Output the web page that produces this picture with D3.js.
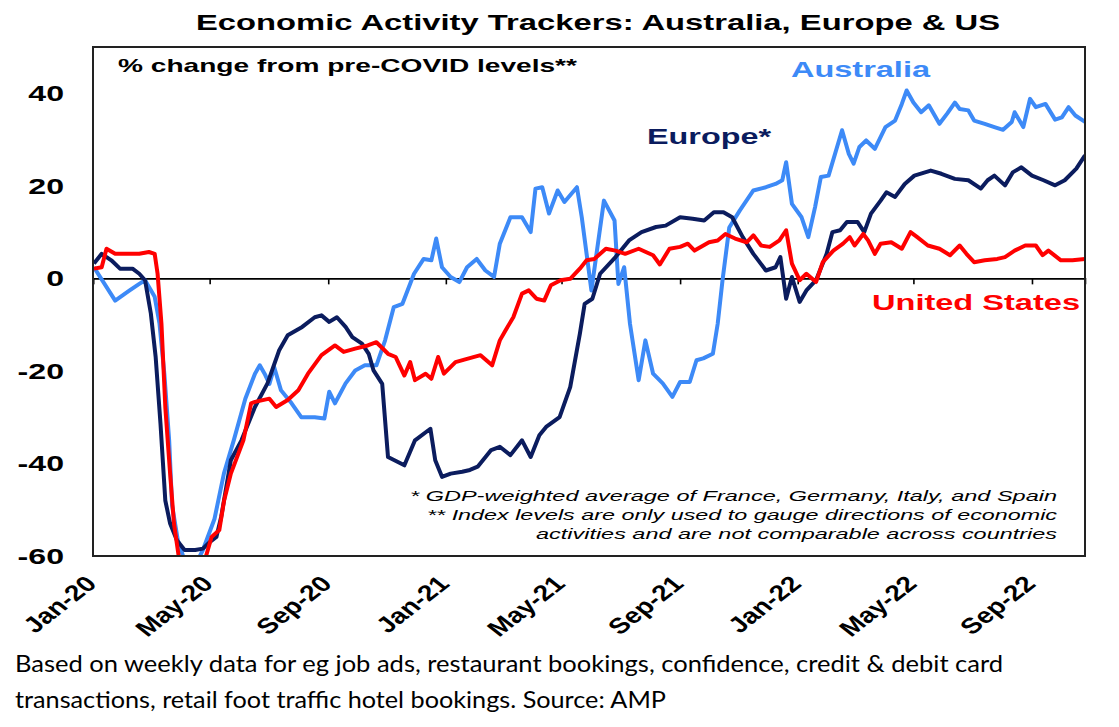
<!DOCTYPE html>
<html lang="en">
<head>
<meta charset="UTF-8" />
<title>Economic Activity Trackers</title>
<script src="https://d3js.org/d3.v7.min.js"></script>
<style>
  body { margin: 0; background: #fff; }
  svg text { font-family: Arial, "Liberation Sans", sans-serif; }
</style>
</head>
<body>
<svg id="chart"></svg>
<script>
// weekly-ish readings, % change from pre-COVID levels
const australia = [
  ["2020-01-02",2.4],["2020-01-24",-4.8],["2020-02-08",-2.6],["2020-02-18",-1.2],["2020-02-24",-0.4],
  ["2020-03-05",-4],["2020-03-10",-9.8],["2020-03-15",-20.6],["2020-03-20",-35],["2020-03-23",-49],
  ["2020-03-29",-56.6],["2020-04-05",-61],["2020-04-16",-62],["2020-04-24",-58.7],["2020-05-06",-52],
  ["2020-05-16",-42],["2020-05-26",-35],["2020-06-07",-26],["2020-06-17",-20.6],["2020-06-22",-18.8],
  ["2020-06-27",-20.6],["2020-07-02",-22.8],["2020-07-07",-19.2],["2020-07-14",-24.2],["2020-07-25",-27],
  ["2020-08-04",-30],["2020-08-18",-30],["2020-08-28",-30.3],["2020-09-02",-24.5],["2020-09-08",-27],
  ["2020-09-19",-22.7],["2020-09-29",-19.9],["2020-10-09",-18.8],["2020-10-21",-18.8],["2020-10-30",-13.4],
  ["2020-11-08",-6.2],["2020-11-17",-5.5],["2020-11-29",1],["2020-12-09",4.2],["2020-12-17",3.9],
  ["2020-12-22",8.6],["2020-12-28",2.4],["2021-01-06",0.3],["2021-01-15",-0.8],["2021-01-23",2.4],
  ["2021-02-02",4.2],["2021-02-11",1.7],["2021-02-20",0.3],["2021-02-26",7.5],["2021-03-09",13.2],
  ["2021-03-21",13.2],["2021-03-30",10],["2021-04-04",19.4],["2021-04-11",19.7],["2021-04-18",14],
  ["2021-04-27",19],["2021-05-04",16.5],["2021-05-17",19.7],["2021-05-22",13.2],["2021-06-01",-2.6],
  ["2021-06-14",16.8],["2021-06-25",12.5],["2021-06-29",-1.2],["2021-07-05",2.4],["2021-07-11",-9.8],
  ["2021-07-20",-22],["2021-07-27",-13.4],["2021-08-04",-20.6],["2021-08-14",-22.7],["2021-08-24",-25.6],
  ["2021-09-01",-22.4],["2021-09-11",-22.4],["2021-09-18",-17.7],["2021-09-25",-17.3],["2021-10-05",-16.3],
  ["2021-10-10",-9.8],["2021-10-15",-0.4],["2021-10-22",11],["2021-11-02",14.7],["2021-11-16",19],
  ["2021-11-29",19.7],["2021-12-09",20.4],["2021-12-16",21.2],["2021-12-20",25.1],["2021-12-26",16.1],
  ["2022-01-05",13.2],["2022-01-12",8.9],["2022-01-19",15.4],["2022-01-25",21.9],["2022-02-02",22.2],
  ["2022-02-16",32],["2022-02-23",26.9],["2022-02-28",24.8],["2022-03-06",28.4],["2022-03-13",29.8],
  ["2022-03-22",28],["2022-04-02",32.7],["2022-04-12",34.1],["2022-04-19",37.7],["2022-04-24",40.6],
  ["2022-05-01",38],["2022-05-09",35.9],["2022-05-17",37.4],["2022-05-28",33.4],["2022-06-05",35.6],
  ["2022-06-13",38],["2022-06-18",36.6],["2022-06-27",36.3],["2022-07-03",34.1],["2022-07-14",33.4],
  ["2022-07-24",32.7],["2022-08-02",32.1],["2022-08-11",33.8],["2022-08-14",35.9],["2022-08-23",32.7],
  ["2022-08-30",38.8],["2022-09-05",37],["2022-09-15",37.7],["2022-09-25",34.3],["2022-10-02",34.8],
  ["2022-10-09",37],["2022-10-16",35.2],["2022-10-26",33.8]
];

const europe = [
  ["2020-01-02",3.2],["2020-01-10",5.3],["2020-01-20",3.9],["2020-01-29",2.1],["2020-02-11",2.1],
  ["2020-02-18",1],["2020-02-24",-0.4],["2020-03-01",-7.6],["2020-03-06",-17],["2020-03-11",-31.4],
  ["2020-03-16",-48],["2020-03-21",-53],["2020-03-28",-56.6],["2020-04-05",-58.7],["2020-04-16",-58.7],
  ["2020-04-24",-58.4],["2020-05-01",-57],["2020-05-08",-55.9],["2020-05-13",-51.5],["2020-05-23",-39.3],
  ["2020-06-03",-35],["2020-06-17",-27.8],["2020-06-30",-22.7],["2020-07-12",-15.6],["2020-07-21",-12.3],
  ["2020-08-05",-10.5],["2020-08-18",-8.4],["2020-08-25",-8],["2020-09-02",-9.4],["2020-09-10",-8.4],
  ["2020-09-19",-10.5],["2020-09-26",-12.7],["2020-10-06",-14.1],["2020-10-13",-16.3],["2020-10-18",-19.9],
  ["2020-10-27",-22.8],["2020-11-02",-38.6],["2020-11-19",-40.4],["2020-11-30",-35],["2020-12-16",-32.5],
  ["2020-12-21",-39.3],["2020-12-28",-42.9],["2021-01-06",-42.2],["2021-01-18",-41.8],["2021-01-26",-41.4],
  ["2021-02-03",-40.7],["2021-02-17",-37.1],["2021-02-26",-36.4],["2021-03-09",-38.2],["2021-03-21",-35],
  ["2021-03-30",-38.6],["2021-04-08",-33.9],["2021-04-15",-32.1],["2021-04-29",-30],["2021-05-10",-23.5],
  ["2021-05-20",-12],["2021-05-25",-5.5],["2021-06-02",-4.4],["2021-06-10",1],["2021-06-26",4.6],
  ["2021-07-10",8.2],["2021-07-23",10],["2021-08-07",11.1],["2021-08-17",11.4],["2021-09-01",13.2],
  ["2021-09-14",12.9],["2021-09-26",12.5],["2021-10-06",14.3],["2021-10-16",14.3],["2021-10-25",13.2],
  ["2021-11-05",8.9],["2021-11-16",5.3],["2021-11-29",1.7],["2021-12-09",2.4],["2021-12-14",4.6],
  ["2021-12-20",-4.4],["2021-12-26",0.3],["2022-01-03",-5.1],["2022-01-10",-2.6],["2022-01-20",-0.4],
  ["2022-01-31",5.3],["2022-02-06",10],["2022-02-14",10.4],["2022-02-21",12.2],["2022-03-04",12.2],
  ["2022-03-11",10],["2022-03-18",14],["2022-03-28",16.8],["2022-04-03",18.6],["2022-04-12",17.6],
  ["2022-04-22",20.4],["2022-05-02",22.2],["2022-05-19",23.3],["2022-05-30",22.6],["2022-06-13",21.5],
  ["2022-06-27",21.2],["2022-07-10",19.4],["2022-07-17",21.2],["2022-07-24",22.2],["2022-08-04",20.1],
  ["2022-08-12",22.9],["2022-08-21",24],["2022-09-01",22.2],["2022-09-13",21.2],["2022-09-25",20.1],
  ["2022-10-05",21.2],["2022-10-17",23.7],["2022-10-26",26.6]
];

const unitedStates = [
  ["2020-01-02",2.1],["2020-01-10",2.4],["2020-01-15",6.4],["2020-01-24",5.3],["2020-02-08",5.3],
  ["2020-02-18",5.3],["2020-02-28",5.7],["2020-03-05",5.3],["2020-03-08",1],["2020-03-12",-9.8],
  ["2020-03-16",-27.8],["2020-03-21",-42.2],["2020-03-25",-53],["2020-03-30",-60.2],["2020-04-07",-64],
  ["2020-04-19",-64],["2020-04-27",-60.2],["2020-05-03",-55.9],["2020-05-11",-54.4],["2020-05-16",-48],
  ["2020-05-23",-42.2],["2020-06-05",-35],["2020-06-13",-27],["2020-06-17",-26.7],["2020-07-02",-26],
  ["2020-07-09",-27.8],["2020-07-21",-26.3],["2020-08-01",-24.2],["2020-08-11",-20.6],["2020-08-25",-16.6],
  ["2020-09-08",-14.5],["2020-09-17",-15.9],["2020-09-29",-15.2],["2020-10-12",-14.5],["2020-10-21",-13.8],
  ["2020-11-02",-16.3],["2020-11-10",-17],["2020-11-19",-21],["2020-11-25",-18.1],["2020-11-30",-22],
  ["2020-12-11",-20.6],["2020-12-17",-21.7],["2020-12-24",-17],["2020-12-30",-20.6],["2021-01-11",-18.1],
  ["2021-01-23",-17.4],["2021-02-06",-16.6],["2021-02-18",-18.8],["2021-02-26",-13.4],["2021-03-04",-11.2],
  ["2021-03-12",-8.4],["2021-03-21",-3.3],["2021-03-28",-2.6],["2021-04-05",-4.4],["2021-04-13",-4.8],
  ["2021-04-20",-1.5],["2021-04-30",-0.4],["2021-05-10",-0.1],["2021-05-20",2.1],["2021-05-27",3.9],
  ["2021-06-04",4.2],["2021-06-16",6.4],["2021-06-26",6],["2021-07-06",5.3],["2021-07-20",6.4],
  ["2021-08-04",5],["2021-08-11",3],["2021-08-21",6.4],["2021-09-01",6.8],["2021-09-09",7.5],
  ["2021-09-16",6],["2021-10-01",7.8],["2021-10-10",8.2],["2021-10-18",9.6],["2021-10-28",8.6],
  ["2021-11-09",7.8],["2021-11-16",9.3],["2021-11-24",7.1],["2021-12-03",6.8],["2021-12-13",8.2],
  ["2021-12-20",10.4],["2021-12-26",3.2],["2022-01-03",-0.4],["2022-01-10",1],["2022-01-20",-0.8],
  ["2022-01-27",3.5],["2022-02-07",6],["2022-02-17",7.5],["2022-02-24",8.9],["2022-03-01",7.1],
  ["2022-03-10",9.6],["2022-03-15",8.2],["2022-03-22",5.3],["2022-03-28",7.5],["2022-04-08",7.8],
  ["2022-04-19",6.4],["2022-04-28",10],["2022-05-05",8.9],["2022-05-16",7.1],["2022-05-28",6.4],
  ["2022-06-08",5],["2022-06-18",7.1],["2022-06-25",5.3],["2022-07-03",3.5],["2022-07-14",3.9],
  ["2022-07-27",4.2],["2022-08-04",4.6],["2022-08-14",6],["2022-08-25",7.1],["2022-09-05",7.1],
  ["2022-09-12",5],["2022-09-18",6],["2022-10-01",3.9],["2022-10-13",3.9],["2022-10-26",4.2]
];

const yTicks = [-60, -40, -20, 0, 20, 40];
const dateRange = ["2020-01-01", "2022-10-26"];
const footnotes = [
  "* GDP-weighted average of France, Germany, Italy, and Spain",
  "** Index levels are only used to gauge directions of economic",
  "activities and are not comparable across countries"
];
const caption = [
  "Based on weekly data for eg job ads, restaurant bookings, confidence, credit & debit card",
  "transactions, retail foot traffic hotel bookings. Source: AMP"
];

// the source picture is stretched sideways, so text is widened to match
const stretch = 1.46;
const width = 1119, height = 727;
const plot = { left: 93, right: 1085, top: 47, bottom: 556 };

const parse = d3.timeParse("%Y-%m-%d");

const svg = d3.select("#chart")
  .attr("width", width)
  .attr("height", height);

const x = d3.scaleTime()
  .domain(dateRange.map(parse))
  .range([plot.left, plot.right]);

const y = d3.scaleLinear()
  .domain([-60, 50])
  .range([plot.bottom, plot.top]);

svg.append("defs").append("clipPath")
  .attr("id", "plot-clip")
  .append("rect")
  .attr("x", plot.left)
  .attr("y", plot.top)
  .attr("width", plot.right - plot.left)
  .attr("height", plot.bottom - plot.top);

// title
svg.append("text")
  .attr("x", 598).attr("y", 30)
  .attr("text-anchor", "middle")
  .attr("font-size", 22.3).attr("font-weight", "bold")
  .attr("textLength", 804).attr("lengthAdjust", "spacingAndGlyphs")
  .text("Economic Activity Trackers: Australia, Europe & US");

// zero line with month ticks
const xAxis = d3.axisBottom(x)
  .ticks(d3.timeMonth.every(4))
  .tickSize(6)
  .tickFormat("");

svg.append("g")
  .attr("transform", `translate(0,${y(0)})`)
  .call(xAxis)
  .call(g => g.select(".domain").attr("stroke", "#000").attr("stroke-width", 1.6))
  .call(g => g.selectAll(".tick line").attr("stroke", "#000").attr("stroke-width", 1.6));

// series
const series = [
  { name: "Australia", values: australia, color: "#3d8af7" },
  { name: "Europe", values: europe, color: "#0b1c5e" },
  { name: "United States", values: unitedStates, color: "#ff0000" }
];

const line = d3.line()
  .x(d => x(parse(d[0])))
  .y(d => y(d[1]));

svg.append("g")
  .attr("clip-path", "url(#plot-clip)")
  .selectAll("path")
  .data(series)
  .enter()
  .append("path")
  .attr("d", d => line(d.values))
  .attr("fill", "none")
  .attr("stroke", d => d.color)
  .attr("stroke-width", 4)
  .attr("stroke-linejoin", "round");

// plot frame
svg.append("rect")
  .attr("x", plot.left).attr("y", plot.top)
  .attr("width", plot.right - plot.left)
  .attr("height", plot.bottom - plot.top)
  .attr("fill", "none")
  .attr("stroke", "#222")
  .attr("stroke-width", 2);

// y labels
svg.append("g")
  .selectAll("text")
  .data(yTicks)
  .enter()
  .append("text")
  .attr("transform", d => `translate(64,${y(d) + 8}) scale(${stretch},1)`)
  .attr("text-anchor", "end")
  .attr("font-size", 22).attr("font-weight", "bold")
  .text(d => d);

// x labels, rotated
const fmt = d3.timeFormat("%b-%y");
svg.append("g")
  .selectAll("text")
  .data(x.ticks(d3.timeMonth.every(4)))
  .enter()
  .append("text")
  .attr("transform", d => `translate(${x(d) + 5},585) scale(1.28,1) rotate(-45)`)
  .attr("text-anchor", "end")
  .attr("font-size", 22).attr("font-weight", "bold")
  .text(d => fmt(d));

// subtitle
svg.append("text")
  .attr("x", 118).attr("y", 72)
  .attr("font-size", 19).attr("font-weight", "bold")
  .attr("textLength", 459).attr("lengthAdjust", "spacingAndGlyphs")
  .text("% change from pre-COVID levels**");

// series labels
const labels = [
  { text: "Australia", x: 791, y: 77, w: 139, color: series[0].color },
  { text: "Europe*", x: 647, y: 144, w: 124, color: series[1].color },
  { text: "United States", x: 872, y: 310, w: 208, color: series[2].color }
];
svg.append("g")
  .selectAll("text")
  .data(labels)
  .enter()
  .append("text")
  .attr("x", d => d.x).attr("y", d => d.y)
  .attr("fill", d => d.color)
  .attr("font-size", 22).attr("font-weight", "bold")
  .attr("textLength", d => d.w).attr("lengthAdjust", "spacingAndGlyphs")
  .text(d => d.text);

// footnotes inside plot
const noteWidths = [647, 630, 521];
svg.append("g")
  .selectAll("text")
  .data(footnotes)
  .enter()
  .append("text")
  .attr("x", 1057).attr("y", (d, i) => 501 + i * 19)
  .attr("text-anchor", "end")
  .attr("font-size", 15).attr("font-style", "italic")
  .attr("textLength", (d, i) => noteWidths[i]).attr("lengthAdjust", "spacingAndGlyphs")
  .text(d => d);

// caption below chart
const captionWidths = [988, 651];
svg.append("g")
  .selectAll("text")
  .data(caption)
  .enter()
  .append("text")
  .attr("x", 15).attr("y", (d, i) => 672 + i * 36)
  .style("font-family", "Lato, 'Open Sans', sans-serif")
  .attr("font-size", 23)
  .attr("textLength", (d, i) => captionWidths[i]).attr("lengthAdjust", "spacingAndGlyphs")
  .text(d => d);
</script>
</body>
</html>
